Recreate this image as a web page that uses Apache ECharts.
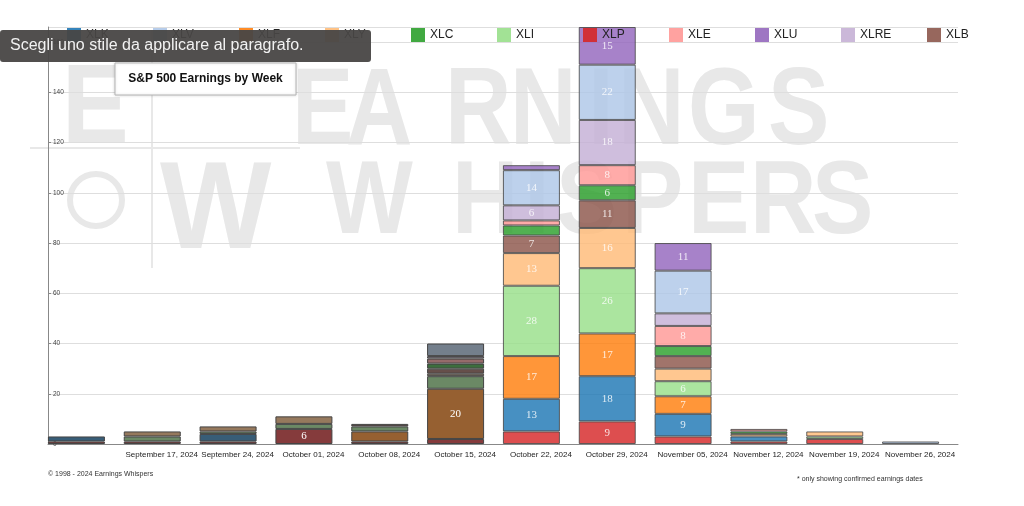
<!DOCTYPE html>
<html><head><meta charset="utf-8">
<script src="https://cdn.jsdelivr.net/npm/echarts@6/dist/echarts.min.js"></script>
<style>html,body{margin:0;padding:0;background:#fff}#c{width:1024px;height:506px}</style>
</head><body><div id="c"></div>
<script>
// ---------- DATA ----------
const weeks = ['September 10, 2024','September 17, 2024','September 24, 2024','October 01, 2024','October 08, 2024','October 15, 2024','October 22, 2024','October 29, 2024','November 05, 2024','November 12, 2024','November 19, 2024','November 26, 2024'];
const pastWeeks = 6; // weeks already reported (drawn darker)
const XLP  = [1,1,1,6,1,2,5,9,3,1,2,0];
const XLK  = [2,0,3,0,0,0,13,18,9,2,0,0];
const XLF  = [0,0,0,0,4,20,17,17,7,0,0,0];
const XLI  = [0,2,1,2,2,5,28,26,6,0,1,0];
const XLY  = [0,2,2,3,0,1,13,16,5,1,2,0];
const XLB  = [0,0,0,0,1,2,7,11,5,0,0,0];
const XLC  = [0,0,0,0,0,2,4,6,4,1,0,0];
const XLE  = [0,0,0,0,0,2,2,8,8,1,0,0];
const XLRE = [0,0,0,0,0,1,6,18,5,0,0,0];
const XLV  = [0,0,0,0,0,5,14,22,17,0,0,1];
const XLU  = [0,0,0,0,0,0,2,15,11,0,0,0];
const legendOrder = ['XLK','XLV','XLF','XLY','XLC','XLI','XLP','XLE','XLU','XLRE','XLB'];
const yMax = 166;

// ---------- BUILD ----------
const stackDefs = [
  ['XLP', '#d62728', XLP], ['XLK', '#1f77b4', XLK], ['XLF', '#ff7f0e', XLF],
  ['XLI', '#98df8a', XLI], ['XLY', '#ffbb78', XLY], ['XLB', '#8c564b', XLB],
  ['XLC', '#2ca02c', XLC], ['XLE', '#ff9896', XLE], ['XLRE', '#c5b0d5', XLRE],
  ['XLV', '#aec7e8', XLV], ['XLU', '#9467bd', XLU]
];
function mix(hex, base, w) {
  const a = [1,3,5].map(i => parseInt(hex.substr(i,2),16));
  const b = [1,3,5].map(i => parseInt(base.substr(i,2),16));
  return 'rgb(' + a.map((v,i) => Math.round(v*w + b[i]*(1-w))).join(',') + ')';
}
const series = stackDefs.map(([name, color, vals]) => ({
  name, type: 'bar', stack: 'all', barWidth: 57,
  itemStyle: { color: color, opacity: 0.82, borderColor: '#444', borderWidth: 1 },
  label: { show: true, position: 'inside', color: '#fff', fontFamily: 'Liberation Serif', fontSize: 11,
           formatter: p => (p.value >= 6 ? String(p.value) : '') },
  data: vals.map((v, i) => {
    if (!v) return null;
    if (i < pastWeeks) return { value: v, itemStyle: { color: mix(color, '#4a4a4a', 0.42), opacity: 1 } };
    return v;
  })
}));
series.push({ name: '_pad', type: 'bar', stack: 'pad', barWidth: 19, barGap: '0%', silent: true,
  data: weeks.map(() => null) });

const legends = legendOrder.map((n, i) => ({
  left: 67 + 86 * i, top: 28, padding: 0, itemWidth: 14, itemHeight: 14, icon: 'rect', selectedMode: false,
  itemStyle: { borderWidth: 0, opacity: 0.9 },
  textStyle: { fontSize: 12, color: '#222' }, data: [n]
}));

const wm = '#e8e8e8';
const wmTop = [['E',292],['A',346],['R',445],['N',510],['I',588],['N',618],['G',688],['S',768]];
const wmBot = [['W',326],['H',452],['I',524],['S',556],['P',622],['E',688],['R',750],['S',812]];
const graphics = [];
const letter = (t, x, y, size, sy) => graphics.push({ type:'text', x, y, z:-1, silent:true, scaleY: sy,
  style:{ text:t, fill:wm, font:'bold ' + size + 'px "Liberation Sans"', verticalAlign:'top' } });
wmTop.forEach(([t,x]) => letter(t, x, 60, 92, 1.18));
wmBot.forEach(([t,x]) => letter(t, x, 153, 92, 1.12));
letter('E', 62, 55, 100, 1.12);
letter('W', 160, 152, 118, 1.05);
graphics.push({ type:'line', z:-1, silent:true, shape:{x1:30,y1:148,x2:300,y2:148}, style:{stroke:wm, lineWidth:2} });
graphics.push({ type:'line', z:-1, silent:true, shape:{x1:152,y1:30,x2:152,y2:268}, style:{stroke:wm, lineWidth:2} });
graphics.push({ type:'circle', z:-1, silent:true, shape:{cx:96,cy:200,r:26}, style:{fill:'none', stroke:wm, lineWidth:6} });
// title box
graphics.push({ type:'rect', z:50, shape:{x:115,y:63,width:181,height:32}, style:{fill:'#fff', stroke:'#b5b5b5', lineWidth:1, shadowBlur:3, shadowColor:'rgba(0,0,0,0.15)'} });
graphics.push({ type:'text', z:51, x:205.5, y:79, style:{ text:'S&P 500 Earnings by Week', fill:'#111', font:'bold 12px "Liberation Sans"', align:'center', verticalAlign:'middle' } });
// footers
graphics.push({ type:'text', x:48, y:474, style:{ text:'© 1998 - 2024 Earnings Whispers', fill:'#333', font:'7px "Liberation Sans"', verticalAlign:'middle' } });
graphics.push({ type:'text', x:797, y:479, style:{ text:'* only showing confirmed earnings dates', fill:'#333', font:'7px "Liberation Sans"', verticalAlign:'middle' } });
// macOS tooltip overlay
graphics.push({ type:'rect', z:200, shape:{x:0,y:30,width:371,height:32,r:3}, style:{fill:'rgba(72,70,68,0.95)'} });
graphics.push({ type:'text', z:201, x:10, y:46, style:{ text:'Scegli uno stile da applicare al paragrafo.', fill:'#f2f2f2', font:'16px "Liberation Sans"', verticalAlign:'middle' } });

const chart = echarts.init(document.getElementById('c'), null, { renderer: 'canvas' });
chart.setOption({
  animation: false,
  backgroundColor: '#fff',
  textStyle: { fontFamily: 'Liberation Sans' },
  grid: { left: 48, right: 66, top: 27, bottom: 62 },
  legend: legends,
  xAxis: {
    type: 'category', data: weeks,
    axisLine: { lineStyle: { color: '#888' } },
    axisTick: { alignWithLabel: true, length: 5, lineStyle: { color: '#888' }, interval: (i) => i !== 0 },
    axisLabel: { fontSize: 8, color: '#222', margin: 7, interval: (i) => i !== 0 }
  },
  yAxis: {
    type: 'value', min: 0, max: yMax, interval: 20,
    axisLine: { show: true, lineStyle: { color: '#888' } },
    axisTick: { show: true, inside: true, length: 3, lineStyle: { color: '#888' } },
    axisLabel: { inside: true, fontSize: 6.5, color: '#444', margin: 5, showMaxLabel: false },
    splitLine: { lineStyle: { color: '#dedede' } }
  },
  graphic: { elements: graphics },
  series
});
</script></body></html>
